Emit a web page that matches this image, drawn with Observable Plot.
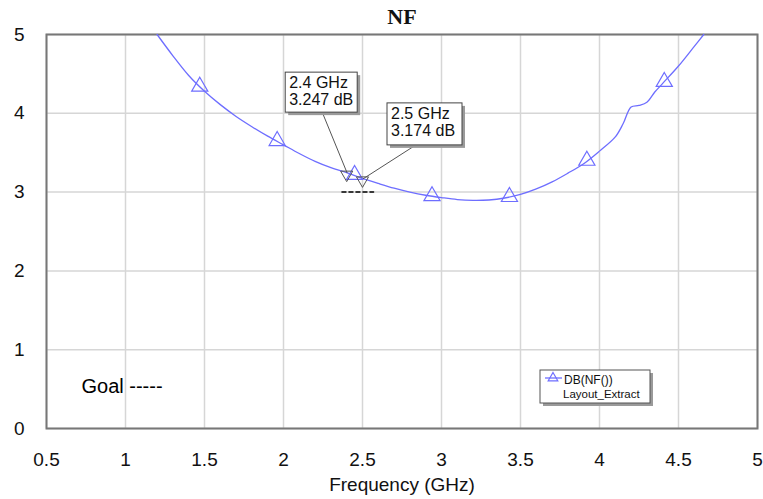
<!DOCTYPE html>
<html><head><meta charset="utf-8">
<script src="https://cdn.jsdelivr.net/npm/d3@7"></script>
<script src="https://cdn.jsdelivr.net/npm/@observablehq/plot@0.6"></script>
<style>body{margin:0;background:#fff;} svg{display:block}</style>
</head><body><div id="chart"></div>
<script>
// Curve samples (GHz, dB)
const freq = [1.2,1.3,1.4,1.5,1.6,1.7,1.8,1.9,2.0,2.1,2.2,2.3,2.4,2.5,2.6,2.7,2.8,2.9,3.0,3.1,3.2,3.3,3.4,3.5,3.6,3.7,3.8,3.9,4.0,4.1,4.15,4.2,4.25,4.3,4.35,4.4,4.5,4.6,4.66];
const nf   = [5.0,4.73,4.48,4.28,4.11,3.96,3.83,3.71,3.60,3.49,3.39,3.31,3.247,3.174,3.11,3.05,3.0,2.96,2.93,2.905,2.895,2.90,2.925,2.97,3.04,3.13,3.24,3.36,3.52,3.70,3.87,4.08,4.10,4.14,4.27,4.38,4.60,4.85,5.0];
// Series symbols
const symFreq = [1.47,1.96,2.45,2.94,3.43,3.92,4.41];
const symNF   = [4.34,3.65,3.22,2.95,2.94,3.40,4.40];
// Markers
const mkFreq = [2.4, 2.5];
const mkNF   = [3.247, 3.174];
// Goal segment
const goalFreq = [2.37, 2.57];
const goalNF = 3;
// Ticks
const xTicks = [0.5,1,1.5,2,2.5,3,3.5,4,4.5,5];
const yTicks = [0,1,2,3,4,5];
const seriesName = "DB(NF())";
const seriesSource = "Layout_Extract";

const blue = "#6e6eff";
const curve = freq.map((f,i)=>({f, v: nf[i]}));
const syms = symFreq.map((f,i)=>({f, v: symNF[i]}));
const mks = mkFreq.map((f,i)=>({f, v: mkNF[i], label: `${f} GHz\n${mkNF[i].toFixed(3)} dB`}));
const goal = goalFreq.map(f=>({f, v: goalNF}));

const plot = Plot.plot({
  width: 763, height: 499,
  marginLeft: 46, marginRight: 6, marginTop: 34, marginBottom: 71,
  style: {fontFamily: "'Liberation Sans', Arial, sans-serif", background: "white", color: "#111"},
  x: {domain: [0.5, 5]},
  y: {domain: [0, 5]},
  marks: [
    Plot.gridX(xTicks, {stroke: "#d6d6d6", strokeOpacity: 1, strokeWidth: 1.5}),
    Plot.gridY(yTicks, {stroke: "#d6d6d6", strokeOpacity: 1, strokeWidth: 1.5}),
    Plot.axisX(xTicks, {tickSize: 0, tickPadding: 24, fontSize: 19, tickFormat: d => `${d}`, label: null}),
    Plot.axisY(yTicks, {tickSize: 0, tickPadding: 22, fontSize: 19, tickFormat: d => `${d}`, label: null}),
    Plot.frame({stroke: "#777", strokeWidth: 2}),
    Plot.line(curve, {x: "f", y: "v", stroke: blue, strokeWidth: 1.3, curve: "catmull-rom"}),
    Plot.line(goal, {x: "f", y: "v", stroke: "#000", strokeWidth: 1.5, strokeDasharray: "4,3"}),
    Plot.dot(syms, {x: "f", y: "v", symbol: "triangle", r: 6, stroke: blue, fill: "none", strokeWidth: 1.2}),
    Plot.dot(mks, {x: "f", y: "v", symbol: "triangle", rotate: 180, r: 4.5, dy: 2, stroke: "#555", fill: "none", strokeWidth: 1}),
    Plot.text(["NF"], {frameAnchor: "top", lineAnchor: "bottom", dy: -11, fontSize: 22, fontWeight: "bold", fontFamily: "'Liberation Serif', 'Times New Roman', serif"}),
    Plot.text(["Frequency (GHz)"], {frameAnchor: "bottom", lineAnchor: "bottom", dy: 62, fontSize: 19}),
    Plot.text(["Goal -----"], {frameAnchor: "bottom-left", textAnchor: "start", lineAnchor: "bottom", dx: 35, dy: -36, fontSize: 20, fill: "#000"})
  ]
});
document.getElementById("chart").appendChild(plot);

// Marker annotation boxes
const sx = plot.scale("x"), sy = plot.scale("y");
const svg = d3.select(plot);
const layout = [{dx: -61, dy: -100, w: 72, h: 40, lx: -24}, {dx: 25, dy: -75, w: 75, h: 42, lx: 54}];
const g = svg.append("g").attr("font-family", "'Liberation Sans', Arial, sans-serif").attr("text-anchor", "start");
mks.forEach((m, i) => {
  const px = sx.apply(m.f), py = sy.apply(m.v), L = layout[i];
  const bx = px + L.dx, by = py + L.dy;
  g.append("line").attr("x1", px + L.lx).attr("y1", by + L.h).attr("x2", px + 1).attr("y2", py + 1)
    .attr("stroke", "#555").attr("stroke-width", 1);
  g.append("rect").attr("x", bx + 3).attr("y", by + 3).attr("width", L.w).attr("height", L.h).attr("fill", "#9a9a9a");
  g.append("rect").attr("x", bx).attr("y", by).attr("width", L.w).attr("height", L.h)
    .attr("fill", "white").attr("stroke", "#444").attr("stroke-width", 1);
  m.label.split("\n").forEach((t, j) => {
    g.append("text").attr("x", bx + 4).attr("y", by + 16 + j * 17).attr("font-size", 16)
      .attr("text-anchor", "start").attr("fill", "#111").text(t);
  });
});

// Legend
const lg = svg.append("g").attr("font-family", "'Liberation Sans', Arial, sans-serif").attr("text-anchor", "start");
const lx = 540, ly = 370, lw = 110, lh = 33;
lg.append("rect").attr("x", lx + 3).attr("y", ly + 3).attr("width", lw).attr("height", lh).attr("fill", "#9a9a9a");
lg.append("rect").attr("x", lx).attr("y", ly).attr("width", lw).attr("height", lh).attr("fill", "white").attr("stroke", "#555");
lg.append("line").attr("x1", lx + 5).attr("x2", lx + 22).attr("y1", ly + 8).attr("y2", ly + 8).attr("stroke", blue).attr("stroke-width", 1.3);
lg.append("path").attr("d", d3.symbol(d3.symbolTriangle, 40)()).attr("transform", `translate(${lx + 13},${ly + 8})`)
  .attr("fill", "none").attr("stroke", blue).attr("stroke-width", 1.2);
lg.append("text").attr("x", lx + 24).attr("y", ly + 14).attr("font-size", 12).attr("text-anchor", "start").attr("fill", "#111").text(seriesName);
lg.append("text").attr("x", lx + 23).attr("y", ly + 28).attr("font-size", 11.5).attr("text-anchor", "start").attr("fill", "#111").text(seriesSource);
</script>
</body></html>
